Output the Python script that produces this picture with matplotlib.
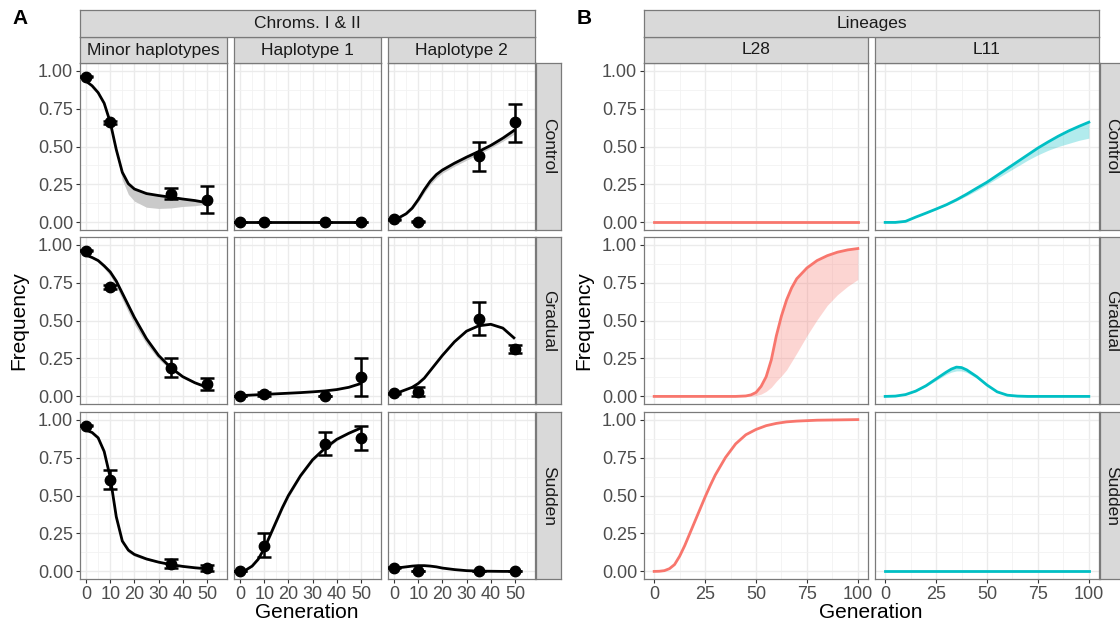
import matplotlib.pyplot as plt

plt.rcParams['font.family'] = ['Liberation Sans', 'DejaVu Sans']

W, H = 1120, 624

# ---------- panel A: Chroms. I & II ----------
conditions = ['Control', 'Gradual', 'Sudden']
haplotypes = ['Minor haplotypes', 'Haplotype 1', 'Haplotype 2']

gen_obs = [0, 10, 35, 50]
gen_fit = [0, 2.5, 5, 7.5, 10, 12.5, 15, 17.5, 20, 25, 30, 35, 40, 45, 50]

# observed frequency (mean, lower, upper)
ctl_minor_pt = [0.96, 0.66, 0.19, 0.15]
ctl_minor_lo = [0.955, 0.65, 0.155, 0.06]
ctl_minor_hi = [0.965, 0.67, 0.225, 0.24]
ctl_h1_pt = [0.0, 0.0, 0.0, 0.0]
ctl_h1_lo = [0.0, 0.0, 0.0, 0.0]
ctl_h1_hi = [0.0, 0.0, 0.0, 0.0]
ctl_h2_pt = [0.02, 0.0, 0.44, 0.66]
ctl_h2_lo = [0.015, 0.0, 0.34, 0.53]
ctl_h2_hi = [0.025, 0.008, 0.53, 0.78]

grd_minor_pt = [0.96, 0.72, 0.19, 0.08]
grd_minor_lo = [0.955, 0.71, 0.125, 0.04]
grd_minor_hi = [0.965, 0.735, 0.255, 0.12]
grd_h1_pt = [0.0, 0.015, 0.0, 0.125]
grd_h1_lo = [0.0, 0.003, 0.0, 0.0]
grd_h1_hi = [0.0, 0.027, 0.005, 0.25]
grd_h2_pt = [0.02, 0.03, 0.51, 0.31]
grd_h2_lo = [0.015, 0.0, 0.405, 0.285]
grd_h2_hi = [0.025, 0.065, 0.625, 0.34]

sdn_minor_pt = [0.96, 0.60, 0.05, 0.02]
sdn_minor_lo = [0.955, 0.54, 0.025, 0.005]
sdn_minor_hi = [0.965, 0.665, 0.08, 0.04]
sdn_h1_pt = [0.0, 0.17, 0.84, 0.88]
sdn_h1_lo = [0.0, 0.095, 0.77, 0.80]
sdn_h1_hi = [0.005, 0.25, 0.92, 0.96]
sdn_h2_pt = [0.025, 0.0, 0.0, 0.0]
sdn_h2_lo = [0.02, 0.0, 0.0, 0.0]
sdn_h2_hi = [0.03, 0.005, 0.003, 0.003]

# model fit and lower edge of its band
ctl_minor_fit = [0.93, 0.90, 0.855, 0.785, 0.66, 0.48, 0.33, 0.255, 0.22, 0.19, 0.177, 0.166, 0.154, 0.144, 0.13]
ctl_minor_low = [0.93, 0.90, 0.855, 0.785, 0.66, 0.46, 0.28, 0.185, 0.14, 0.1, 0.092, 0.095, 0.105, 0.11, 0.12]
ctl_h1_fit = [0.0] * 15
ctl_h2_fit = [0.02, 0.035, 0.057, 0.094, 0.15, 0.215, 0.272, 0.315, 0.345, 0.39, 0.43, 0.467, 0.507, 0.555, 0.61]
ctl_h2_low = [0.02, 0.033, 0.052, 0.085, 0.135, 0.195, 0.25, 0.292, 0.325, 0.37, 0.41, 0.45, 0.49, 0.535, 0.585]

grd_minor_fit = [0.93, 0.915, 0.895, 0.86, 0.82, 0.76, 0.68, 0.60, 0.52, 0.38, 0.27, 0.19, 0.13, 0.09, 0.06]
grd_minor_low = [0.93, 0.91, 0.885, 0.845, 0.795, 0.725, 0.64, 0.555, 0.475, 0.345, 0.245, 0.175, 0.12, 0.085, 0.058]
grd_h1_fit = [0.005, 0.007, 0.009, 0.011, 0.013, 0.015, 0.017, 0.019, 0.021, 0.025, 0.03, 0.036, 0.045, 0.06, 0.085]
grd_h2_fit = [0.02, 0.03, 0.045, 0.06, 0.085, 0.12, 0.17, 0.22, 0.27, 0.36, 0.43, 0.465, 0.475, 0.45, 0.38]

sdn_minor_fit = [0.93, 0.915, 0.88, 0.79, 0.62, 0.36, 0.2, 0.14, 0.112, 0.082, 0.061, 0.045, 0.033, 0.024, 0.017]
sdn_minor_low = [0.93, 0.915, 0.88, 0.79, 0.62, 0.35, 0.185, 0.125, 0.1, 0.075, 0.057, 0.042, 0.031, 0.023, 0.016]
sdn_h1_fit = [0.0, 0.01, 0.035, 0.08, 0.15, 0.24, 0.33, 0.42, 0.5, 0.63, 0.735, 0.81, 0.87, 0.91, 0.945]
sdn_h1_low = [0.0, 0.008, 0.03, 0.072, 0.14, 0.225, 0.315, 0.405, 0.485, 0.62, 0.725, 0.80, 0.86, 0.905, 0.94]
sdn_h2_fit = [0.02, 0.025, 0.03, 0.035, 0.038, 0.038, 0.035, 0.03, 0.022, 0.012, 0.005, 0.002, 0.001, 0.0, 0.0]

# ---------- panel B: Lineages ----------
lineages = ['L28', 'L11']
lin_colors = ['#F8766D', '#00BFC4']

ctl_L28_x = [0, 100]
ctl_L28_y = [0.0, 0.0]
ctl_L11_x = [0, 5, 10, 15, 20, 25, 30, 35, 40, 45, 50, 55, 60, 65, 70, 75, 80, 85, 90, 95, 100]
ctl_L11_y = [0, 0, 0.007, 0.035, 0.061, 0.088, 0.116, 0.149, 0.186, 0.226, 0.265, 0.31, 0.355, 0.40, 0.445,
             0.49, 0.53, 0.568, 0.602, 0.632, 0.66]
ctl_L11_low = [0, 0, 0.007, 0.035, 0.06, 0.086, 0.112, 0.142, 0.175, 0.21, 0.25, 0.29, 0.33, 0.37, 0.41,
               0.445, 0.475, 0.5, 0.52, 0.54, 0.555]

grd_L28_x = [0, 5, 10, 15, 20, 25, 30, 35, 40, 45, 47.5, 50, 52.5, 55, 57.5, 60, 62.5, 65, 67.5, 70,
             75, 80, 85, 90, 95, 100]
grd_L28_y = [0, 0, 0, 0, 0, 0, 0, 0, 0, 0.003, 0.01, 0.026, 0.066, 0.13, 0.24, 0.40, 0.53, 0.635, 0.715, 0.775,
             0.846, 0.895, 0.927, 0.95, 0.965, 0.974]
grd_L28_low = [0, 0, 0, 0, 0, 0, 0, 0, 0, 0.0, 0.002, 0.006, 0.015, 0.033, 0.06, 0.10, 0.135, 0.175, 0.23, 0.285,
               0.40, 0.505, 0.60, 0.67, 0.725, 0.77]
grd_L11_x = [0, 5, 10, 15, 20, 25, 30, 32.5, 35, 37.5, 40, 45, 50, 55, 60, 65, 70, 80, 90, 100]
grd_L11_y = [0, 0.002, 0.012, 0.035, 0.07, 0.115, 0.16, 0.18, 0.193, 0.19, 0.175, 0.13, 0.075, 0.03, 0.008,
             0.002, 0, 0, 0, 0]
grd_L11_low = [0, 0.002, 0.011, 0.032, 0.064, 0.105, 0.145, 0.16, 0.168, 0.168, 0.158, 0.12, 0.07, 0.028,
               0.007, 0.002, 0, 0, 0, 0]

sdn_L28_x = [0, 2.5, 5, 7.5, 10, 12.5, 15, 17.5, 20, 22.5, 25, 27.5, 30, 35, 40, 45, 50, 55, 60, 65, 70,
             80, 90, 100]
sdn_L28_y = [0, 0.001, 0.005, 0.018, 0.045, 0.1, 0.17, 0.25, 0.33, 0.41, 0.49, 0.565, 0.635, 0.75, 0.84,
             0.9, 0.935, 0.96, 0.975, 0.985, 0.99, 0.996, 0.998, 1.0]
sdn_L11_x = [0, 100]
sdn_L11_y = [0.0, 0.0]

A_data = {
    ('Control', 'Minor haplotypes'): (ctl_minor_pt, ctl_minor_lo, ctl_minor_hi, ctl_minor_fit, ctl_minor_low),
    ('Control', 'Haplotype 1'): (ctl_h1_pt, ctl_h1_lo, ctl_h1_hi, ctl_h1_fit, None),
    ('Control', 'Haplotype 2'): (ctl_h2_pt, ctl_h2_lo, ctl_h2_hi, ctl_h2_fit, ctl_h2_low),
    ('Gradual', 'Minor haplotypes'): (grd_minor_pt, grd_minor_lo, grd_minor_hi, grd_minor_fit, grd_minor_low),
    ('Gradual', 'Haplotype 1'): (grd_h1_pt, grd_h1_lo, grd_h1_hi, grd_h1_fit, None),
    ('Gradual', 'Haplotype 2'): (grd_h2_pt, grd_h2_lo, grd_h2_hi, grd_h2_fit, None),
    ('Sudden', 'Minor haplotypes'): (sdn_minor_pt, sdn_minor_lo, sdn_minor_hi, sdn_minor_fit, sdn_minor_low),
    ('Sudden', 'Haplotype 1'): (sdn_h1_pt, sdn_h1_lo, sdn_h1_hi, sdn_h1_fit, sdn_h1_low),
    ('Sudden', 'Haplotype 2'): (sdn_h2_pt, sdn_h2_lo, sdn_h2_hi, sdn_h2_fit, None),
}
B_data = {
    ('Control', 'L28'): (ctl_L28_x, ctl_L28_y, None),
    ('Control', 'L11'): (ctl_L11_x, ctl_L11_y, ctl_L11_low),
    ('Gradual', 'L28'): (grd_L28_x, grd_L28_y, grd_L28_low),
    ('Gradual', 'L11'): (grd_L11_x, grd_L11_y, grd_L11_low),
    ('Sudden', 'L28'): (sdn_L28_x, sdn_L28_y, None),
    ('Sudden', 'L11'): (sdn_L11_x, sdn_L11_y, None),
}

# ---------- layout (pixels) ----------
BORDER = '#7a7a7a'
STRIP = '#D9D9D9'
rows_px = [(63, 230), (237, 404), (412, 579)]
A_cols = [(80, 227), (234, 381), (388, 535)]
B_cols = [(644, 868), (875, 1099)]

fig = plt.figure(figsize=(W / 100, H / 100), dpi=100)
fig.patch.set_facecolor('white')


def px_axes(x0, x1, y0, y1):
    return fig.add_axes([x0 / W, 1 - y1 / H, (x1 - x0) / W, (y1 - y0) / H])


def strip(x0, x1, y0, y1, text, rot=0):
    ax = px_axes(x0, x1, y0, y1)
    ax.set_facecolor(STRIP)
    ax.set_xticks([])
    ax.set_yticks([])
    for s in ax.spines.values():
        s.set_color(BORDER)
        s.set_linewidth(0.9)
    ax.text(0.5, 0.5, text, ha='center', va='center', rotation=rot, fontsize=12.5,
            color='#1A1A1A', transform=ax.transAxes)


def style(ax, xlim, xmaj, xmin, left, bottom):
    ax.set_xlim(xlim)
    ax.set_ylim(-0.05, 1.05)
    ax.set_xticks(xmaj)
    ax.set_xticks(xmin, minor=True)
    ax.set_yticks([0, 0.25, 0.5, 0.75, 1.0])
    ax.set_yticklabels(['0.00', '0.25', '0.50', '0.75', '1.00'])
    ax.set_yticks([0.125, 0.375, 0.625, 0.875], minor=True)
    ax.grid(which='major', color='#EBEBEB', lw=1.0)
    ax.grid(which='minor', color='#F2F2F2', lw=0.6)
    ax.set_axisbelow(True)
    ax.tick_params(which='minor', length=0)
    ax.tick_params(which='major', length=3, width=0.8, color='#333333', labelsize=13,
                   labelcolor='#4D4D4D', pad=2)
    ax.tick_params(axis='y', left=left, labelleft=left)
    ax.tick_params(axis='x', bottom=bottom, labelbottom=bottom)
    for s in ax.spines.values():
        s.set_color(BORDER)
        s.set_linewidth(0.9)


# panel A
for i, cond in enumerate(conditions):
    y0, y1 = rows_px[i]
    for j, hap in enumerate(haplotypes):
        x0, x1 = A_cols[j]
        ax = px_axes(x0, x1, y0, y1)
        style(ax, (-2.5, 58.3), [0, 10, 20, 30, 40, 50], [5, 15, 25, 35, 45, 55], j == 0, i == 2)
        pt, lo, hi, fit, low = A_data[(cond, hap)]
        if low is not None:
            ax.fill_between(gen_fit, low, fit, color='#CACACA', lw=0, zorder=2)
        ax.plot(gen_fit, fit, color='black', lw=2.0, zorder=3, solid_capstyle='butt')
        yerr = [[p - l for p, l in zip(pt, lo)], [h - p for p, h in zip(pt, hi)]]
        ax.errorbar(gen_obs, pt, yerr=yerr, fmt='o', color='black', ms=7.5, elinewidth=1.8,
                    capsize=5, capthick=1.8, zorder=4)
    strip(536, 561, y0, y1, cond, rot=270)

for j, hap in enumerate(haplotypes):
    strip(A_cols[j][0], A_cols[j][1], 37, 63, hap)
strip(80, 535, 10, 37, 'Chroms. I & II')

# panel B
for i, cond in enumerate(conditions):
    y0, y1 = rows_px[i]
    for j, lin in enumerate(lineages):
        x0, x1 = B_cols[j]
        ax = px_axes(x0, x1, y0, y1)
        style(ax, (-5, 105), [0, 25, 50, 75, 100], [12.5, 37.5, 62.5, 87.5], j == 0, i == 2)
        x, y, low = B_data[(cond, lin)]
        if low is not None:
            ax.fill_between(x, low, y, color=lin_colors[j], alpha=0.3, lw=0, zorder=2)
        ax.plot(x, y, color=lin_colors[j], lw=2.0, zorder=3)
    strip(1100, 1123, y0, y1, cond, rot=270)

for j, lin in enumerate(lineages):
    strip(B_cols[j][0], B_cols[j][1], 37, 63, lin)
strip(644, 1099, 10, 37, 'Lineages')

# titles and axis labels
fig.text(12 / W, 1 - 18 / H, 'A', fontsize=15, fontweight='bold', ha='left', va='center')
fig.text(577 / W, 1 - 18 / H, 'B', fontsize=15, fontweight='bold', ha='left', va='center')
fig.text(307 / W, 1 - 613 / H, 'Generation', fontsize=15, ha='center', va='center')
fig.text(871 / W, 1 - 613 / H, 'Generation', fontsize=15, ha='center', va='center')
fig.text(19 / W, 1 - 321 / H, 'Frequency', fontsize=15, ha='center', va='center', rotation=90)
fig.text(584 / W, 1 - 321 / H, 'Frequency', fontsize=15, ha='center', va='center', rotation=90)

fig.savefig('out.png', dpi=100)
